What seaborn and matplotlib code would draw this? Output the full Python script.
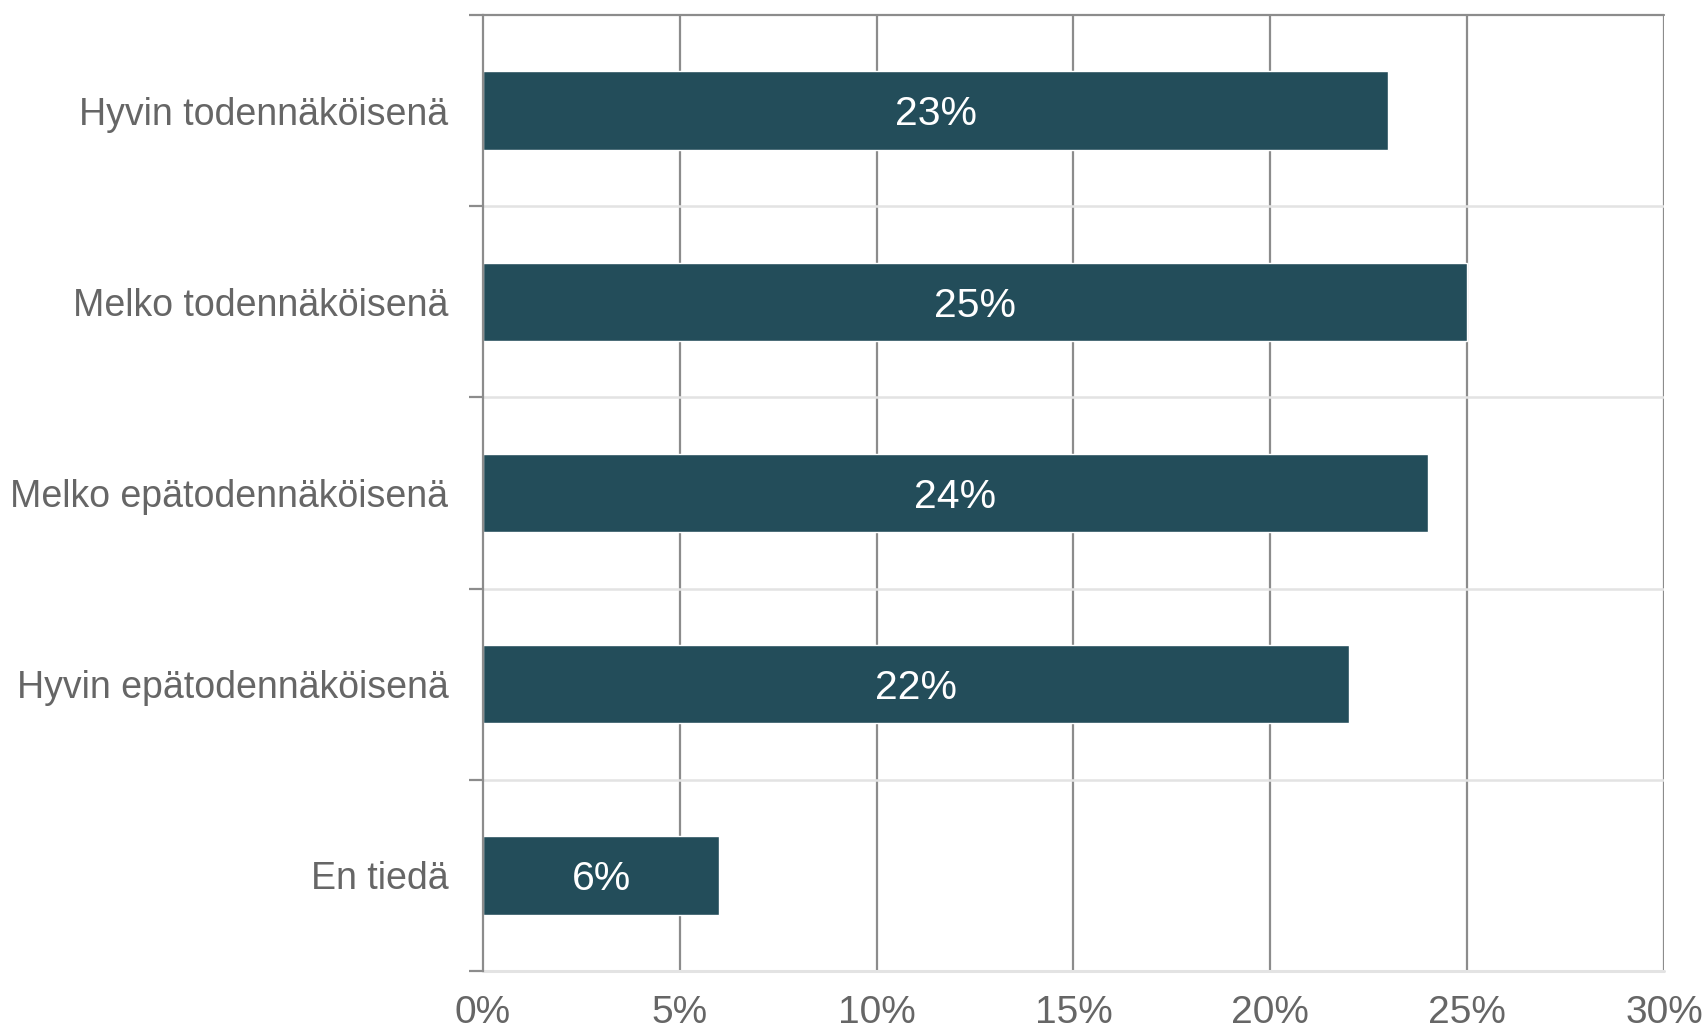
import matplotlib
matplotlib.use("Agg")
import matplotlib.pyplot as plt
import seaborn as sns
import pandas as pd
import numpy as np
from matplotlib.ticker import FixedLocator, PercentFormatter

# Data
categories = ["Hyvin todennäköisenä", "Melko todennäköisenä", "Melko epätodennäköisenä",
              "Hyvin epätodennäköisenä", "En tiedä"]
values = [23, 25, 24, 22, 6]

BAR_COLOR = "#234d5a"
TEXT_GRAY = "#666666"
GRID_DARK = "#8c8c8c"
GRID_LIGHT = "#e3e3e3"

sns.set_style("white")
plt.rcParams["font.family"] = ["Liberation Sans", "DejaVu Sans"]

df = pd.DataFrame({"kategoria": categories, "osuus": values})

fig = plt.figure(figsize=(17.08, 10.36), dpi=100)
ax = fig.add_axes([0.2828, 0.0627, 0.6914, 0.9228])

sns.barplot(data=df, x="osuus", y="kategoria", color=BAR_COLOR, width=0.41,
            saturation=1, ax=ax, zorder=3)

ax.set_xlim(0, 30)
ax.set_ylim(len(categories) - 0.5, -0.5)
ax.set_xticks(np.arange(0, 31, 5))
ax.xaxis.set_major_formatter(PercentFormatter(decimals=0))
ax.set_xlabel("")
ax.set_ylabel("")

# pystysuorat apuviivat
for x in np.arange(5, 31, 5):
    ax.axvline(x, color=GRID_DARK, lw=1.6, zorder=1)
# vaakaviivat kategorioiden välissä
for y in np.arange(0.5, len(categories) - 0.5, 1):
    ax.axhline(y, color=GRID_LIGHT, lw=1.8, zorder=1)

for s in ["right", "bottom", "top"]:
    ax.spines[s].set_visible(False)
ax.spines["left"].set_color(GRID_DARK)
ax.spines["left"].set_linewidth(1.6)
ax.spines["left"].set_zorder(4)
# ylä- ja alareuna
ax.plot([0, 1], [1, 1], transform=ax.transAxes, color=GRID_DARK, lw=1.6, clip_on=False, zorder=4)
ax.plot([0, 1], [0, 0], transform=ax.transAxes, color=GRID_LIGHT, lw=2.2, clip_on=False, zorder=2)

# tikit kategorioiden rajoilla
ax.yaxis.set_minor_locator(FixedLocator(np.arange(-0.5, len(categories), 1)))
ax.tick_params(axis="y", which="minor", length=10, width=1.6, color=GRID_DARK, left=True)
ax.tick_params(axis="y", which="major", length=0, pad=25, labelsize=27, labelcolor=TEXT_GRAY)
ax.tick_params(axis="x", which="major", length=0, pad=17, labelsize=28, labelcolor=TEXT_GRAY)

for i, v in enumerate(values):
    ax.text(v / 2, i + 0.02, f"{v}%", ha="center", va="center", color="white",
            fontsize=29.5, zorder=5)

fig.savefig("out.png", dpi=100)
